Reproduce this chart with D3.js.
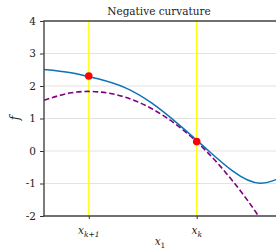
<!DOCTYPE html>
<html>
<head>
<meta charset="utf-8">
<script src="https://cdn.jsdelivr.net/npm/d3@7"></script>
<style>
  body { margin: 0; background: #fff; }
  text { font-family: "DejaVu Serif", "Liberation Serif", serif; fill: #222; }
</style>
</head>
<body>
<svg width="276" height="250"></svg>
<script>
// Data
const xSamples = [0, 0.5, 1, 1.5, 2, 2.5, 3, 3.5, 4, 4.5];
const fValues = [2.51, 2.41, 2.22, 1.95, 1.47, 0.81, 0.08, -0.62, -0.99, -0.72];
const modelValues = [1.56, 1.79, 1.82, 1.66, 1.30, 0.75, 0.01, -0.93, -2.06, -3.39];
const iterX = [0.83, 2.83];
const iterF = [2.31, 0.29];
const xTickLabels = ["k+1", "k"];
const yTicks = [-2, -1, 0, 1, 2, 3, 4];

const svg = d3.select("svg"),
  width = +svg.attr("width"),
  height = +svg.attr("height");

const margin = { top: 21, right: 0, bottom: 34, left: 44 };

const x = d3.scaleLinear().domain([0, 4.3]).range([margin.left, width - margin.right]);
const y = d3.scaleLinear().domain([-2, 4]).range([height - margin.bottom, margin.top]);

svg.append("clipPath").attr("id", "clip")
  .append("rect")
  .attr("x", margin.left).attr("y", margin.top)
  .attr("width", width - margin.left - margin.right)
  .attr("height", y(-2) - margin.top);

// grid
svg.append("g")
  .selectAll("line")
  .data(yTicks)
  .enter()
  .append("line")
  .attr("x1", margin.left).attr("x2", width)
  .attr("y1", d => y(d)).attr("y2", d => y(d))
  .attr("stroke", "#e3e3e3").attr("stroke-width", 1);

// iterate markers (vertical lines)
svg.append("g")
  .selectAll("line")
  .data(iterX)
  .enter()
  .append("line")
  .attr("x1", d => x(d)).attr("x2", d => x(d))
  .attr("y1", y(4)).attr("y2", y(-2))
  .attr("stroke", "#ffff00").attr("stroke-width", 1.3);

const plot = svg.append("g").attr("clip-path", "url(#clip)");

const line = d3.line().curve(d3.curveNatural);

plot.append("path")
  .attr("d", line(xSamples.map((d, i) => [x(d), y(modelValues[i])])))
  .attr("fill", "none")
  .attr("stroke", "#800080")
  .attr("stroke-width", 1.6)
  .attr("stroke-dasharray", "5.5,2.8");

plot.append("path")
  .attr("d", line(xSamples.map((d, i) => [x(d), y(fValues[i])])))
  .attr("fill", "none")
  .attr("stroke", "#0a72b8")
  .attr("stroke-width", 1.5);

svg.append("g")
  .selectAll("circle")
  .data(iterX)
  .enter()
  .append("circle")
  .attr("cx", d => x(d))
  .attr("cy", (d, i) => y(iterF[i]))
  .attr("r", 3.8)
  .attr("fill", "#ff0000");

// axes
const yAxis = svg.append("g")
  .attr("transform", `translate(${margin.left},0)`)
  .call(d3.axisLeft(y).tickValues(yTicks).tickSize(4).tickPadding(4).tickFormat(d3.format("d")));
yAxis.select(".domain").remove();
yAxis.selectAll("line").attr("stroke", "#333");
yAxis.selectAll("text").style("font-size", "10.5px").text(d => d < 0 ? "-" + Math.abs(d) : d);

const xAxis = svg.append("g")
  .attr("transform", `translate(0,${y(-2)})`)
  .call(d3.axisBottom(x).tickValues(iterX).tickSize(3).tickFormat(""));
xAxis.select(".domain").remove();
xAxis.selectAll("line").attr("stroke", "#333");

iterX.forEach(function (d, i) {
  const t = svg.append("text")
    .attr("x", x(d)).attr("y", 234)
    .attr("text-anchor", "middle")
    .style("font-size", "10.5px");
  t.append("tspan").style("font-style", "italic").text("x");
  t.append("tspan").attr("dy", 2.5).style("font-size", "7.5px").style("font-style", "italic").text(xTickLabels[i]);
});

// spines
svg.append("line")
  .attr("x1", margin.left).attr("x2", margin.left)
  .attr("y1", y(4)).attr("y2", y(-2))
  .attr("stroke", "#444").attr("stroke-width", 1.4);
svg.append("line")
  .attr("x1", margin.left - 0.7).attr("x2", width)
  .attr("y1", y(-2)).attr("y2", y(-2))
  .attr("stroke", "#444").attr("stroke-width", 1.4);
svg.append("line")
  .attr("x1", margin.left - 0.7).attr("x2", width)
  .attr("y1", y(4)).attr("y2", y(4))
  .attr("stroke", "#444").attr("stroke-width", 1.4);

// title and labels
svg.append("text")
  .attr("x", 159).attr("y", 15)
  .attr("text-anchor", "middle")
  .style("font-size", "10.5px")
  .text("Negative curvature");

const xl = svg.append("text")
  .attr("x", 160).attr("y", 245)
  .attr("text-anchor", "middle")
  .style("font-size", "10.5px");
xl.append("tspan").style("font-style", "italic").text("x");
xl.append("tspan").attr("dy", 2.5).style("font-size", "7.5px").text("1");

svg.append("text")
  .attr("transform", "translate(19,118) rotate(-90)")
  .attr("text-anchor", "middle")
  .style("font-size", "12px")
  .style("font-style", "italic")
  .text("f");
</script>
</body>
</html>
